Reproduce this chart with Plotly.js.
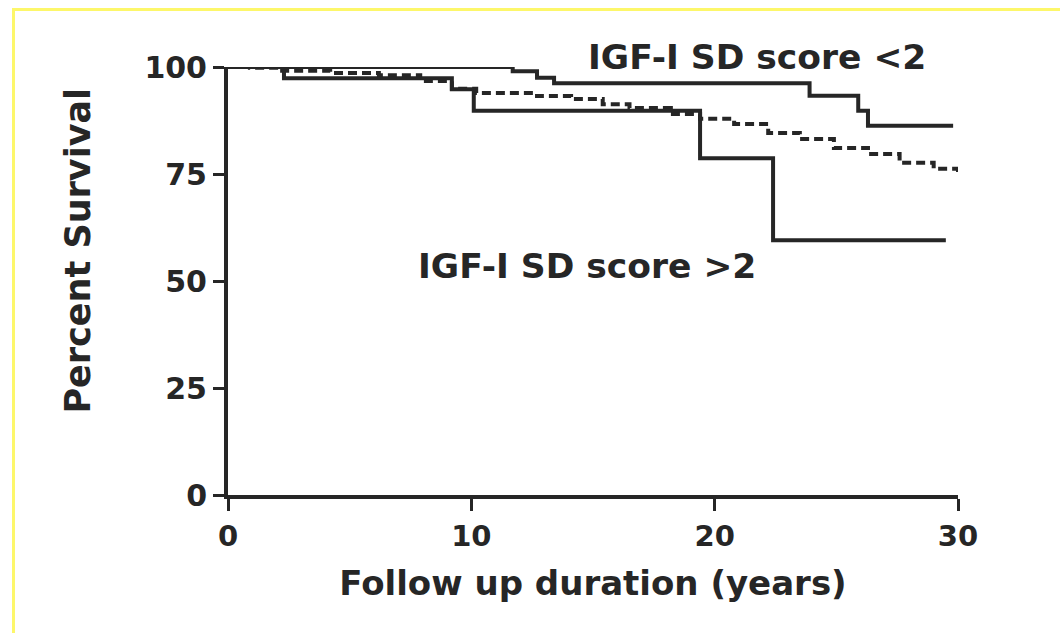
<!DOCTYPE html>
<html>
<head>
<meta charset="utf-8">
<script src="https://cdn.plot.ly/plotly-3.0.1.min.js"></script>
<style>
  html, body { margin: 0; padding: 0; background: #ffffff; }
  #frame { position: absolute; left: 12px; top: 8px; width: 1060px; height: 640px;
           border-top: 3px solid #fdf76a; border-left: 3px solid #fdf76a; pointer-events: none; z-index: 5; }
  #chart { width: 1060px; height: 633px; }
</style>
</head>
<body>
<div id="frame"></div>
<div id="chart"></div>
<script>
// IGF-I SD score <2 (upper solid step curve)
const yearsLow = [0, 11.7, 12.7, 13.4, 23.9, 25.9, 26.3, 29.8];
const survLow = [100, 99.0, 97.5, 96.2, 93.3, 89.8, 86.3, 86.3];

// IGF-I SD score >2 (lower solid step curve)
const yearsHigh = [0, 2.3, 9.2, 10.1, 19.4, 22.4, 29.5];
const survHigh = [100, 97.4, 94.8, 89.8, 78.7, 59.5, 59.5];

// Reference population (dashed step curve)
const yearsRef = [0, 0.9, 2.1, 4.2, 6.2, 7.9, 9.2, 10.2, 12.7, 14.1, 15.4, 16.5, 18.2, 19.4, 20.8, 22.2, 23.5, 24.9, 26.3, 27.6, 29.0, 30];
const survRef = [100, 99.8, 99.1, 98.6, 98.1, 96.7, 94.9, 93.9, 93.2, 92.5, 91.3, 90.4, 89.0, 87.9, 86.7, 84.6, 83.2, 81.1, 79.7, 77.6, 76.2, 75.3];

const xTicks = [0, 10, 20, 30];
const yTicks = [0, 25, 50, 75, 100];
const labelLow = "IGF-I SD score <2";
const labelHigh = "IGF-I SD score >2";
const xTitle = "Follow up duration (years)";
const yTitle = "Percent Survival";

const ink = "#262626";
const fontFam = "DejaVu Sans, Liberation Sans, Arial, sans-serif";

const traces = [
  { x: yearsRef, y: survRef, mode: "lines", line: { shape: "hv", color: ink, width: 4, dash: "9px,5px" }, cliponaxis: false, showlegend: false, hoverinfo: "skip" },
  { x: yearsHigh, y: survHigh, mode: "lines", line: { shape: "hv", color: ink, width: 4 }, cliponaxis: false, showlegend: false, hoverinfo: "skip" },
  { x: yearsLow, y: survLow, mode: "lines", line: { shape: "hv", color: ink, width: 4 }, cliponaxis: false, showlegend: false, hoverinfo: "skip" }
];

const layout = {
  width: 1060, height: 633,
  margin: { l: 228, r: 102, t: 67, b: 138 },
  paper_bgcolor: "#ffffff", plot_bgcolor: "#ffffff",
  font: { family: fontFam, color: ink },
  xaxis: {
    range: [0, 30], tickvals: xTicks, ticktext: xTicks.map(String),
    showgrid: false, zeroline: false, showline: true, linecolor: ink, linewidth: 4,
    ticks: "outside", ticklen: 12, tickwidth: 3, tickcolor: ink,
    tickfont: { family: fontFam, size: 29, weight: "bold", color: ink },
    title: { text: xTitle, font: { family: fontFam, size: 34, weight: "bold", color: ink }, standoff: 20 }
  },
  yaxis: {
    range: [0, 100], tickvals: yTicks, ticktext: yTicks.map(String),
    showgrid: false, zeroline: false, showline: true, linecolor: ink, linewidth: 4,
    ticks: "outside", ticklen: 11, tickwidth: 3, tickcolor: ink,
    tickfont: { family: fontFam, size: 30, weight: "bold", color: ink },
    title: { text: "" }
  },
  annotations: [
    { x: -0.205, y: 0.572, xref: "paper", yref: "paper", text: yTitle, showarrow: false, textangle: -90,
      font: { family: fontFam, size: 35, weight: "bold", color: ink }, xanchor: "center", yanchor: "middle" },
    { x: 21.74, y: 1.024, xref: "x", yref: "paper", text: labelLow, showarrow: false,
      font: { family: fontFam, size: 34.5, weight: "bold", color: ink }, xanchor: "center", yanchor: "middle" },
    { x: 14.76, y: 53.5, xref: "x", yref: "y", text: labelHigh, showarrow: false,
      font: { family: fontFam, size: 34.5, weight: "bold", color: ink }, xanchor: "center", yanchor: "middle" }
  ]
};

Plotly.newPlot("chart", traces, layout, { displayModeBar: false, staticPlot: true });
</script>
</body>
</html>
